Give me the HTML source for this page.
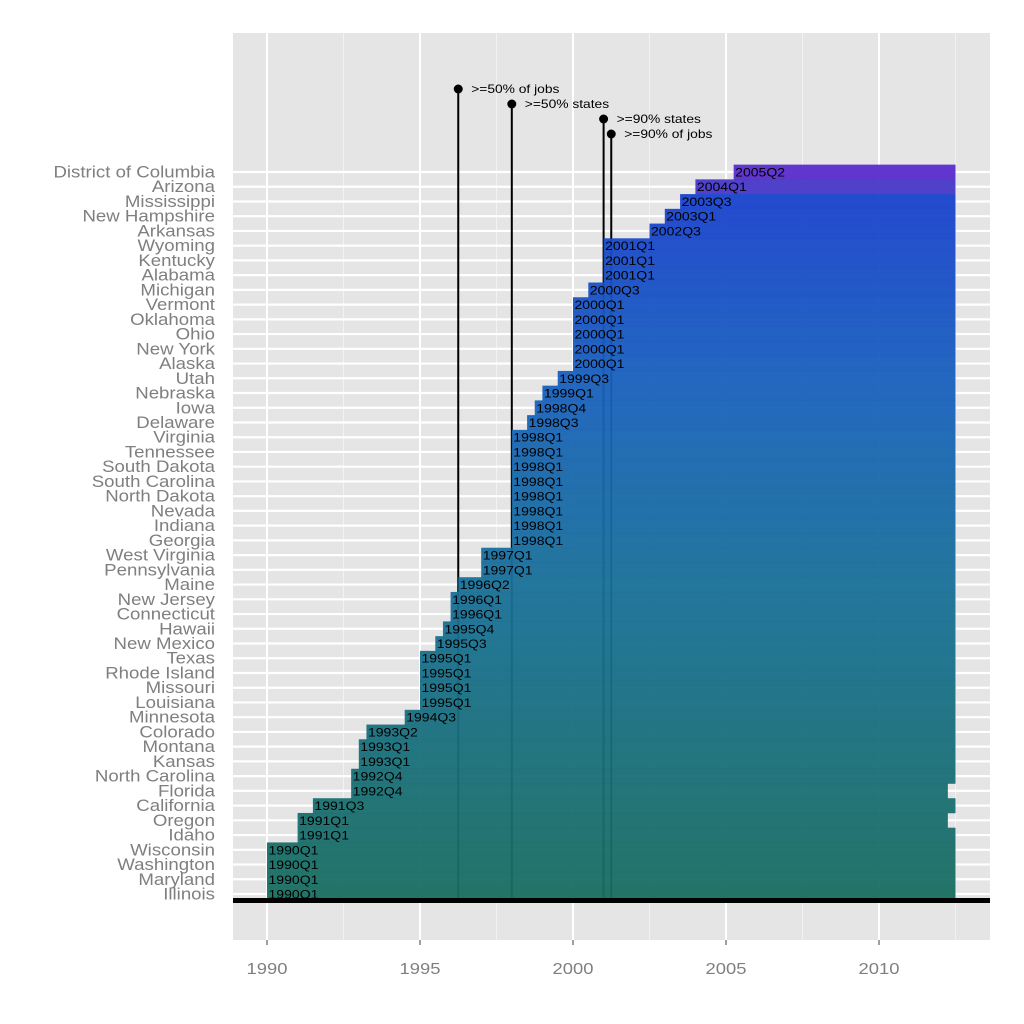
<!DOCTYPE html>
<html><head><meta charset="utf-8"><style>
html,body{margin:0;padding:0;background:#fff;width:1024px;height:1024px;overflow:hidden}
svg{display:block;font-family:"Liberation Sans",Arial,sans-serif}
</style></head><body>
<svg id="chart" width="1024" height="1024" viewBox="0 0 1024 1024" xmlns="http://www.w3.org/2000/svg">
<rect x="233" y="33" width="757" height="907" fill="#e5e5e5"/>
<g id="grid"></g><g id="events"></g><g id="bars"></g><g id="ylabels"></g><g id="xaxis"></g>
</svg>
<script>
const states=["District of Columbia","Arizona","Mississippi","New Hampshire","Arkansas","Wyoming","Kentucky","Alabama","Michigan","Vermont","Oklahoma","Ohio","New York","Alaska","Utah","Nebraska","Iowa","Delaware","Virginia","Tennessee","South Dakota","South Carolina","North Dakota","Nevada","Indiana","Georgia","West Virginia","Pennsylvania","Maine","New Jersey","Connecticut","Hawaii","New Mexico","Texas","Rhode Island","Missouri","Louisiana","Minnesota","Colorado","Montana","Kansas","North Carolina","Florida","California","Oregon","Idaho","Wisconsin","Washington","Maryland","Illinois"];
const quarters=["2005Q2","2004Q1","2003Q3","2003Q1","2002Q3","2001Q1","2001Q1","2001Q1","2000Q3","2000Q1","2000Q1","2000Q1","2000Q1","2000Q1","1999Q3","1999Q1","1998Q4","1998Q3","1998Q1","1998Q1","1998Q1","1998Q1","1998Q1","1998Q1","1998Q1","1998Q1","1997Q1","1997Q1","1996Q2","1996Q1","1996Q1","1995Q4","1995Q3","1995Q1","1995Q1","1995Q1","1995Q1","1994Q3","1993Q2","1993Q1","1993Q1","1992Q4","1992Q4","1991Q3","1991Q1","1991Q1","1990Q1","1990Q1","1990Q1","1990Q1"];
const endYears=[2012.5,2012.5,2012.5,2012.5,2012.5,2012.5,2012.5,2012.5,2012.5,2012.5,2012.5,2012.5,2012.5,2012.5,2012.5,2012.5,2012.5,2012.5,2012.5,2012.5,2012.5,2012.5,2012.5,2012.5,2012.5,2012.5,2012.5,2012.5,2012.5,2012.5,2012.5,2012.5,2012.5,2012.5,2012.5,2012.5,2012.5,2012.5,2012.5,2012.5,2012.5,2012.5,2012.25,2012.5,2012.25,2012.5,2012.5,2012.5,2012.5,2012.5];
const eventLabels=[">=50% of jobs",">=50% states",">=90% states",">=90% of jobs"];
const eventYears=[1996.25,1998.0,2001.0,2001.25];
const xTicks=[1990,1995,2000,2005,2010];
const xMinor=[1992.5,1997.5,2002.5,2007.5,2012.5];

const NS="http://www.w3.org/2000/svg";
const xs=v=>267+(v-1990)*30.6;
const nRows=states.length, yTop=172, yBottom=894, rowStep=(yBottom-yTop)/(nRows-1);
const ys=i=>yTop+i*rowStep;
const qv=q=>+q.slice(0,4)+(+q.slice(5)-1)/4;
function mk(tag,attrs,parent,text){const e=document.createElementNS(NS,tag);for(const k in attrs)e.setAttribute(k,attrs[k]);if(text!=null)e.textContent=text;parent.appendChild(e);return e;}
const G=id=>document.getElementById(id);

const grid=G('grid');
xMinor.forEach(v=>{const l=mk('line',{x1:xs(v),x2:xs(v),y1:33,y2:940,stroke:'#f2f2f2','stroke-width':1},grid);

});
xTicks.forEach(v=>{const l=mk('line',{x1:xs(v),x2:xs(v),y1:33,y2:940,stroke:'#fff','stroke-width':2},grid);

});
states.forEach((s,i)=>{const l=mk('line',{x1:233,x2:990,y1:ys(i),y2:ys(i),stroke:'#fff','stroke-width':2.2},grid);

});

const ev=G('events');
eventYears.forEach((v,i)=>{
 const yy=89+i*15;
 const l=mk('line',{x1:xs(v),x2:xs(v),y1:yy,y2:900,stroke:'#000','stroke-width':2},ev);
 
 
 const c=mk('circle',{cx:xs(v),cy:yy,r:4.5,fill:'#000'},ev);
 
 
 const t=mk('text',{x:0,y:0,'font-size':11.5,fill:'#000',transform:'translate('+(xs(v)+13)+','+(yy+4)+') scale(1.2,1)'},ev,eventLabels[i]);
 
 
});

const stops=[[0,[90,44,204]],[1,[72,56,200]],[2,[24,66,204]],[14,[24,96,190]],[28,[24,112,152]],[49,[24,110,96]]];
function col(i){for(let k=0;k<stops.length-1;k++){const a=stops[k],b=stops[k+1];if(i>=a[0]&&i<=b[0]){const t=(i-a[0])/(b[0]-a[0]);return 'rgb('+a[1].map((c,j)=>Math.round(c+(b[1][j]-c)*t)).join(',')+')';}}return 'rgb(24,110,96)';}
const bars=G('bars');
states.forEach((s,i)=>{
 const x0=xs(qv(quarters[i])),x1=xs(endYears[i]);
 const r=mk('rect',{x:x0,y:ys(i)-rowStep/2,width:x1-x0,height:rowStep+0.3,fill:col(i),'fill-opacity':0.95},bars);
 
 
 const t=mk('text',{x:0,y:0,'font-size':12,fill:'#000',transform:'translate('+(x0+1.5)+','+(ys(i)+4.5)+') scale(1.17,1)'},bars,quarters[i]);
 
 
});
const base=mk('rect',{x:233,y:898,width:757,height:5,fill:'#000'},bars);



const yl=G('ylabels');
states.forEach((s,i)=>{const t=mk('text',{x:0,y:0,'font-size':16.5,fill:'#7f7f7f','text-anchor':'end',transform:'translate(215,'+(ys(i)+5.5)+') scale(1.13,1)'},yl,s);

});

const xa=G('xaxis');
xTicks.forEach(v=>{
 const l=mk('line',{x1:xs(v),x2:xs(v),y1:940,y2:945,stroke:'#7f7f7f','stroke-width':1.5},xa);
 
 
 const t=mk('text',{x:0,y:0,'font-size':16,fill:'#7f7f7f','text-anchor':'middle',transform:'translate('+xs(v)+',974) scale(1.15,1)'},xa,String(v));
 
 
});
</script>
</body></html>
